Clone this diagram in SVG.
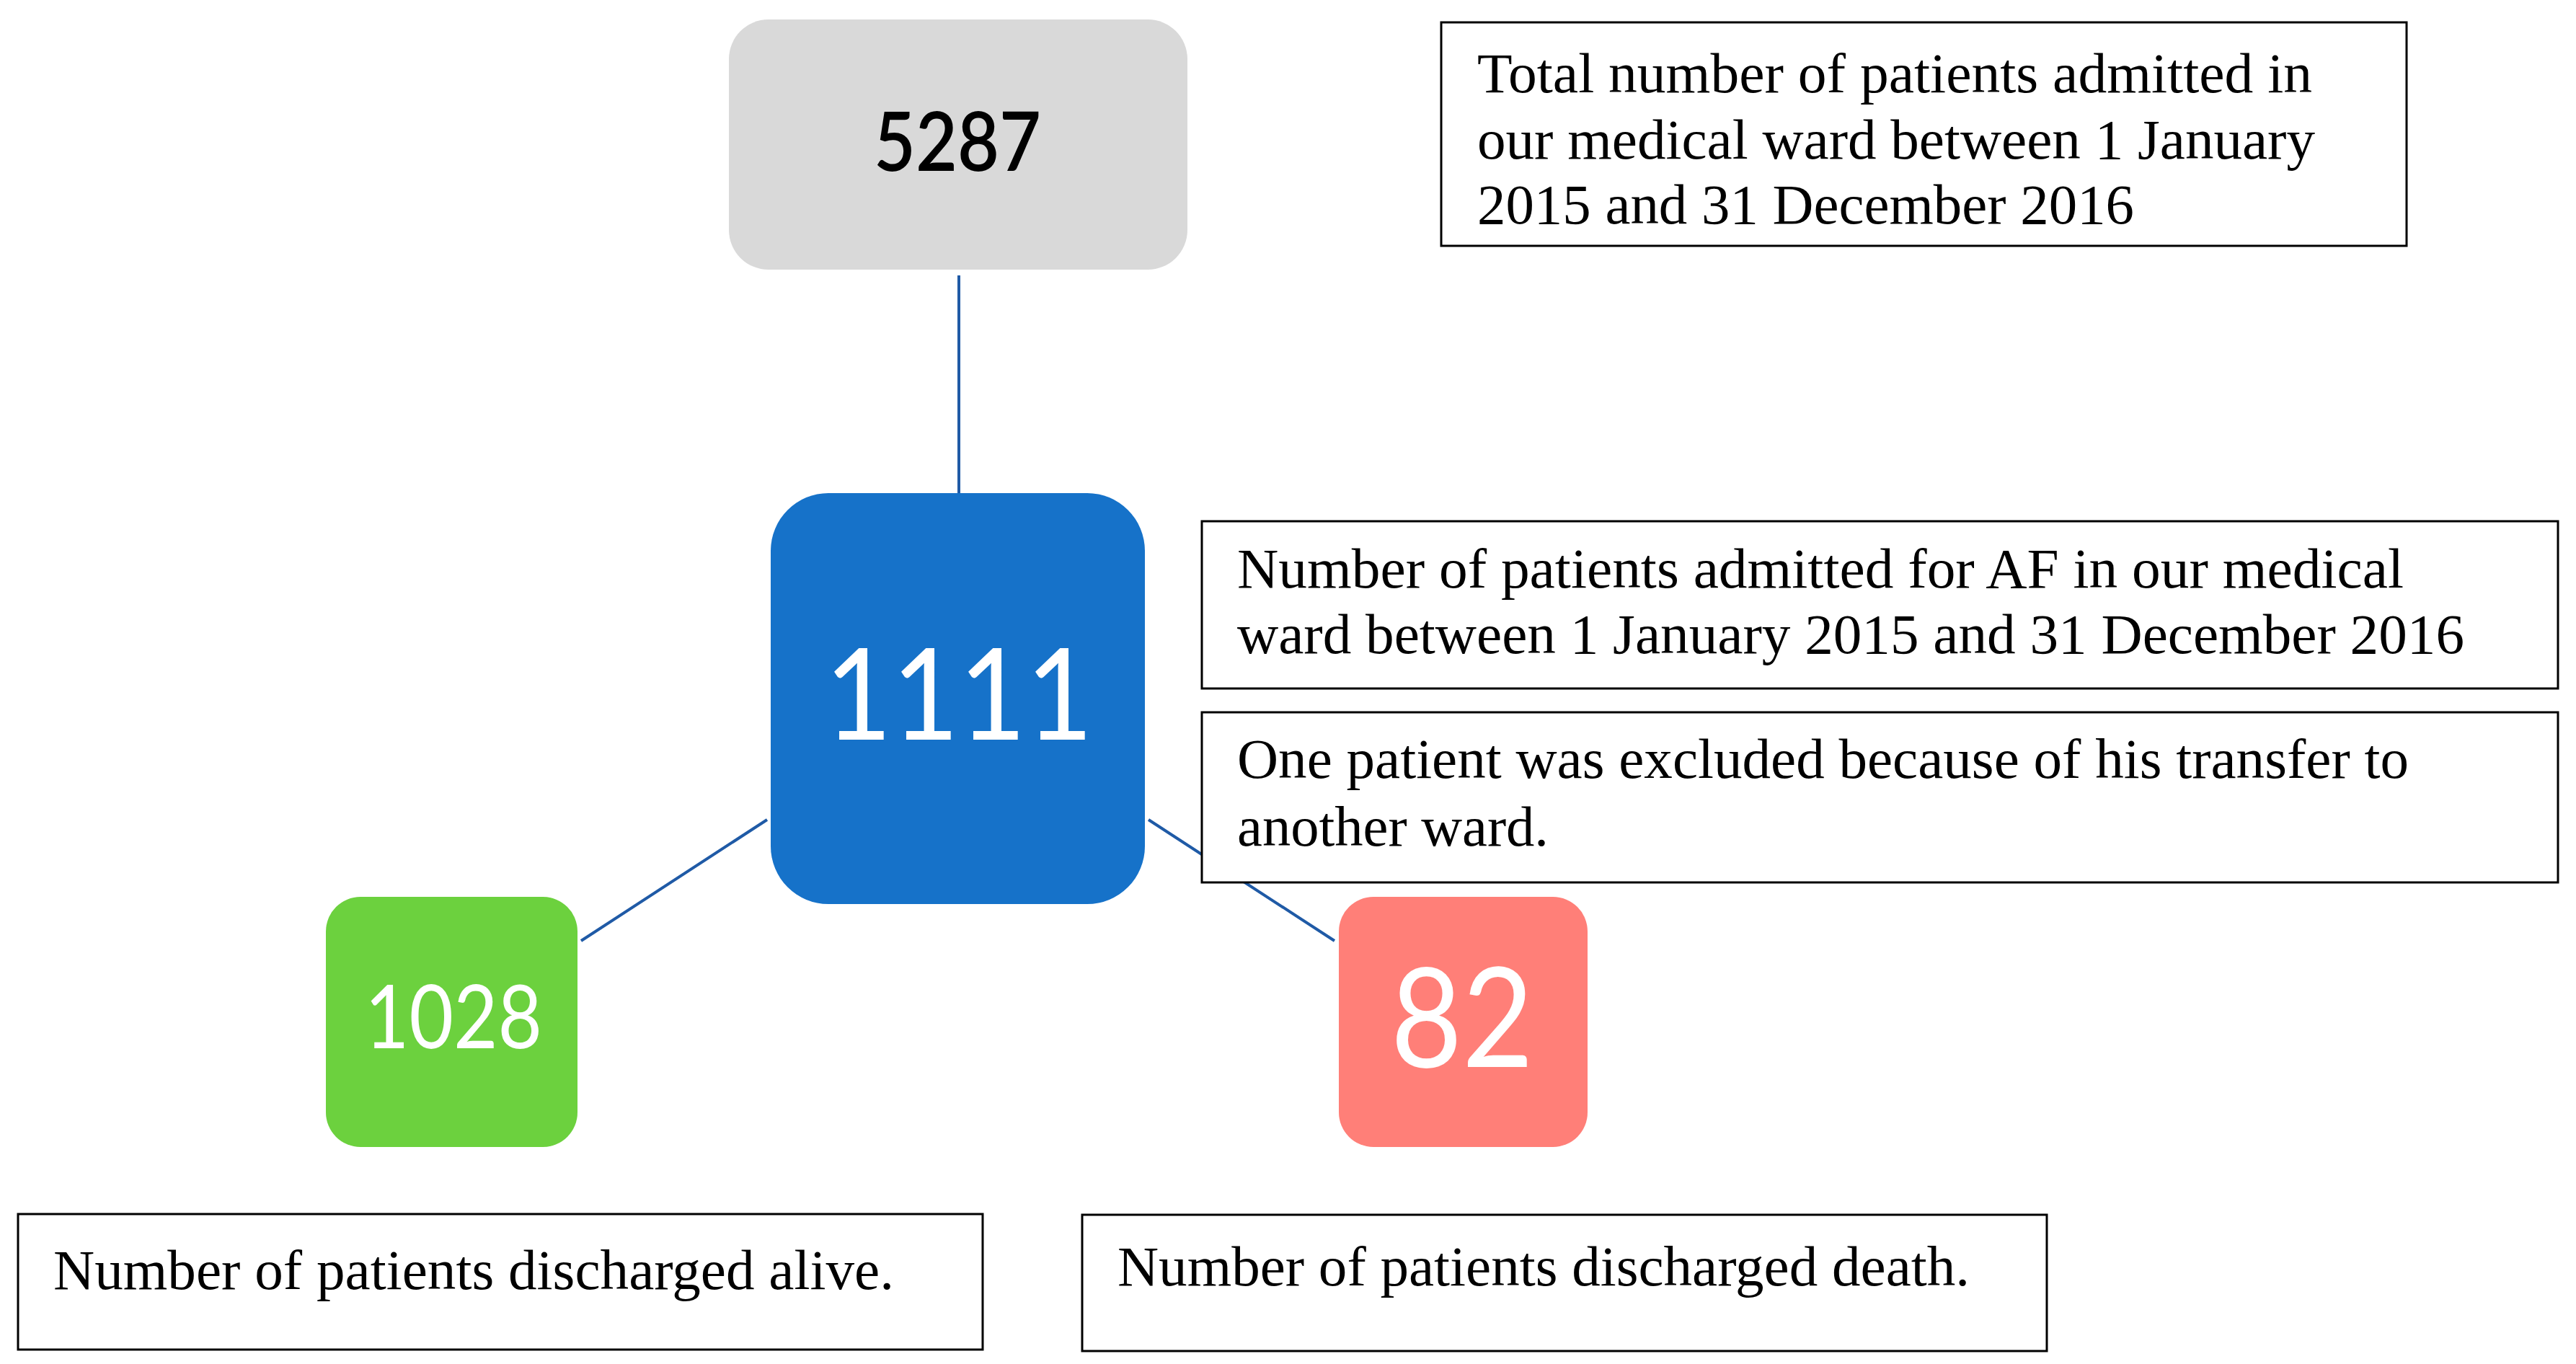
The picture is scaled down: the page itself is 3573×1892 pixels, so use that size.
<svg xmlns="http://www.w3.org/2000/svg" width="3573" height="1892" viewBox="0 0 3573 1892">
<style>
.num{font-family:Lato,"Noto Sans",sans-serif;text-anchor:middle}
.note{fill:#fff;stroke:#000;stroke-width:3}
.nt{font-family:"Liberation Serif","Times New Roman",serif;font-size:78px;fill:#000}
.con{stroke:#1F5AA6;stroke-width:4;fill:none}
</style>
<rect width="3573" height="1892" fill="#fff"/>
<g id="connectors">
<line class="con" x1="1330" y1="382" x2="1330" y2="684"/>
<line class="con" x1="1064" y1="1137" x2="806" y2="1305"/>
<line class="con" x1="1593" y1="1137" x2="1851" y2="1305"/>
</g>
<g id="node-5287">
<rect x="1011" y="27" width="636" height="347" rx="55" fill="#D9D9D9"/>
<text class="num" x="1328" y="237" font-size="113" font-weight="600" textLength="232" lengthAdjust="spacingAndGlyphs" fill="#000">5287</text>
</g>
<g id="node-1111">
<rect x="1069" y="684" width="519" height="570" rx="80" fill="#1672C9"/>
<text class="num" x="1330" y="1026" font-size="176" textLength="372" lengthAdjust="spacingAndGlyphs" fill="#fff">1111</text>
</g>
<g id="node-1028">
<rect x="452" y="1244" width="349" height="347" rx="48" fill="#6CD13E"/>
<text class="num" x="629" y="1454" font-size="123" textLength="246" lengthAdjust="spacingAndGlyphs" fill="#fff">1028</text>
</g>
<g id="node-82">
<rect x="1857" y="1244" width="345" height="347" rx="48" fill="#FF7F78"/>
<text class="num" x="2028" y="1480" font-size="193" textLength="198" lengthAdjust="spacingAndGlyphs" fill="#fff">82</text>
</g>
<g id="note-total">
<rect class="note" x="1999" y="31" width="1339" height="310"/>
<text class="nt" x="2049" y="128" textLength="1158" lengthAdjust="spacingAndGlyphs">Total number of patients admitted in</text>
<text class="nt" x="2049" y="220" textLength="1162" lengthAdjust="spacingAndGlyphs">our medical ward between 1 January</text>
<text class="nt" x="2049" y="310" textLength="911" lengthAdjust="spacingAndGlyphs">2015 and 31 December 2016</text>
</g>
<g id="note-af">
<rect class="note" x="1667" y="723" width="1881" height="232"/>
<text class="nt" x="1716" y="815" textLength="1618" lengthAdjust="spacingAndGlyphs">Number of patients admitted for AF in our medical</text>
<text class="nt" x="1716" y="906" textLength="1702" lengthAdjust="spacingAndGlyphs">ward between 1 January 2015 and 31 December 2016</text>
</g>
<g id="note-excluded">
<rect class="note" x="1667" y="988" width="1881" height="236"/>
<text class="nt" x="1716" y="1079" textLength="1625" lengthAdjust="spacingAndGlyphs">One patient was excluded because of his transfer to</text>
<text class="nt" x="1716" y="1173" textLength="432" lengthAdjust="spacingAndGlyphs">another ward.</text>
</g>
<g id="note-alive">
<rect class="note" x="25" y="1684" width="1338" height="188"/>
<text class="nt" x="74" y="1788" textLength="1166" lengthAdjust="spacingAndGlyphs">Number of patients discharged alive.</text>
</g>
<g id="note-death">
<rect class="note" x="1501" y="1685" width="1338" height="189"/>
<text class="nt" x="1550" y="1783" textLength="1182" lengthAdjust="spacingAndGlyphs">Number of patients discharged death.</text>
</g>
</svg>
